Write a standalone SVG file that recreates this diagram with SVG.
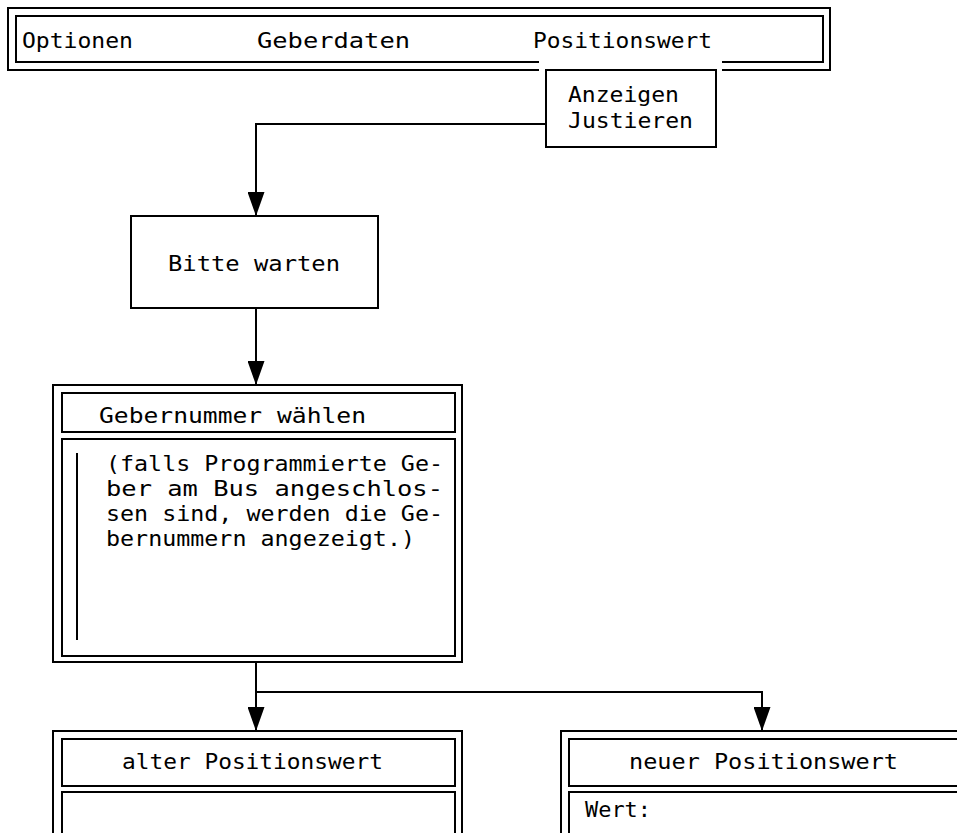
<svg xmlns="http://www.w3.org/2000/svg" width="957" height="833" viewBox="0 0 957 833">
  <style>
    .box { fill: #fff; stroke: #000; stroke-width: 2; }
    .line { fill: none; stroke: #000; stroke-width: 2; }
    .wire { fill: none; stroke: #000; stroke-width: 2; }
    text { font-family: "DejaVu Sans Mono", "Liberation Mono", monospace; font-size: 22px; fill: #000; }
  </style>
  <defs>
    <marker id="arrow" markerUnits="userSpaceOnUse" markerWidth="24" markerHeight="17" refX="24" refY="8.5" orient="auto" viewBox="0 0 24 17">
      <polygon points="0,0 24,8.5 0,17" fill="#000"/>
    </marker>
  </defs>
  <rect width="957" height="833" fill="#fff"/>

  <!-- menu bar -->
  <g id="menubar">
    <path class="line" d="M539,70 H8 V8 H830 V70 H722"/>
    <path class="line" d="M539,62 H16 V16 H823 V62 H722"/>
    <text x="22" y="48" textLength="111" lengthAdjust="spacingAndGlyphs">Optionen</text>
    <text x="257" y="48" textLength="153" lengthAdjust="spacingAndGlyphs">Geberdaten</text>
    <text x="533" y="48" textLength="179" lengthAdjust="spacingAndGlyphs">Positionswert</text>
  </g>

  <!-- drop-down menu -->
  <g id="submenu">
    <rect class="box" x="546" y="70" width="170" height="77"/>
    <text x="568" y="102" textLength="111" lengthAdjust="spacingAndGlyphs">Anzeigen</text>
    <text x="568" y="128" textLength="125" lengthAdjust="spacingAndGlyphs">Justieren</text>
  </g>

  <!-- wait screen -->
  <g id="wait">
    <rect class="box" x="131" y="216" width="247" height="92"/>
    <text x="168" y="271" textLength="172" lengthAdjust="spacingAndGlyphs">Bitte warten</text>
  </g>

  <!-- sensor number selection -->
  <g id="select">
    <rect class="box" x="53" y="385" width="409" height="277"/>
    <rect class="box" x="62" y="393" width="393" height="39"/>
    <rect class="box" x="62" y="439" width="393" height="217"/>
    <line class="line" x1="77" y1="453" x2="77" y2="640"/>
    <text x="99" y="423" textLength="267" lengthAdjust="spacingAndGlyphs">Gebernummer wählen</text>
    <text x="106" y="471" textLength="337" lengthAdjust="spacingAndGlyphs">(falls Programmierte Ge-</text>
    <text x="106" y="496" textLength="337" lengthAdjust="spacingAndGlyphs">ber am Bus angeschlos-</text>
    <text x="106" y="521" textLength="337" lengthAdjust="spacingAndGlyphs">sen sind, werden die Ge-</text>
    <text x="106" y="546" textLength="309" lengthAdjust="spacingAndGlyphs">bernummern angezeigt.)</text>
  </g>

  <!-- old position value -->
  <g id="oldvalue">
    <rect class="box" x="53" y="731" width="409" height="120"/>
    <rect class="box" x="62" y="739" width="393" height="47"/>
    <rect class="box" x="62" y="792" width="393" height="60"/>
    <text x="122" y="769" textLength="261" lengthAdjust="spacingAndGlyphs">alter Positionswert</text>
  </g>

  <!-- new position value -->
  <g id="newvalue">
    <rect class="box" x="561" y="731" width="420" height="120"/>
    <rect class="box" x="569" y="739" width="420" height="47"/>
    <rect class="box" x="569" y="792" width="420" height="60"/>
    <text x="629" y="769" textLength="269" lengthAdjust="spacingAndGlyphs">neuer Positionswert</text>
    <text x="585" y="817" textLength="66" lengthAdjust="spacingAndGlyphs">Wert:</text>
  </g>

  <!-- connectors -->
  <g id="connectors">
    <path class="wire" d="M546,124 H256 V216" marker-end="url(#arrow)"/>
    <path class="wire" d="M256,308 V385" marker-end="url(#arrow)"/>
    <path class="wire" d="M256,662 V731" marker-end="url(#arrow)"/>
    <path class="wire" d="M256,692 H762 V731" marker-end="url(#arrow)"/>
  </g>
</svg>
